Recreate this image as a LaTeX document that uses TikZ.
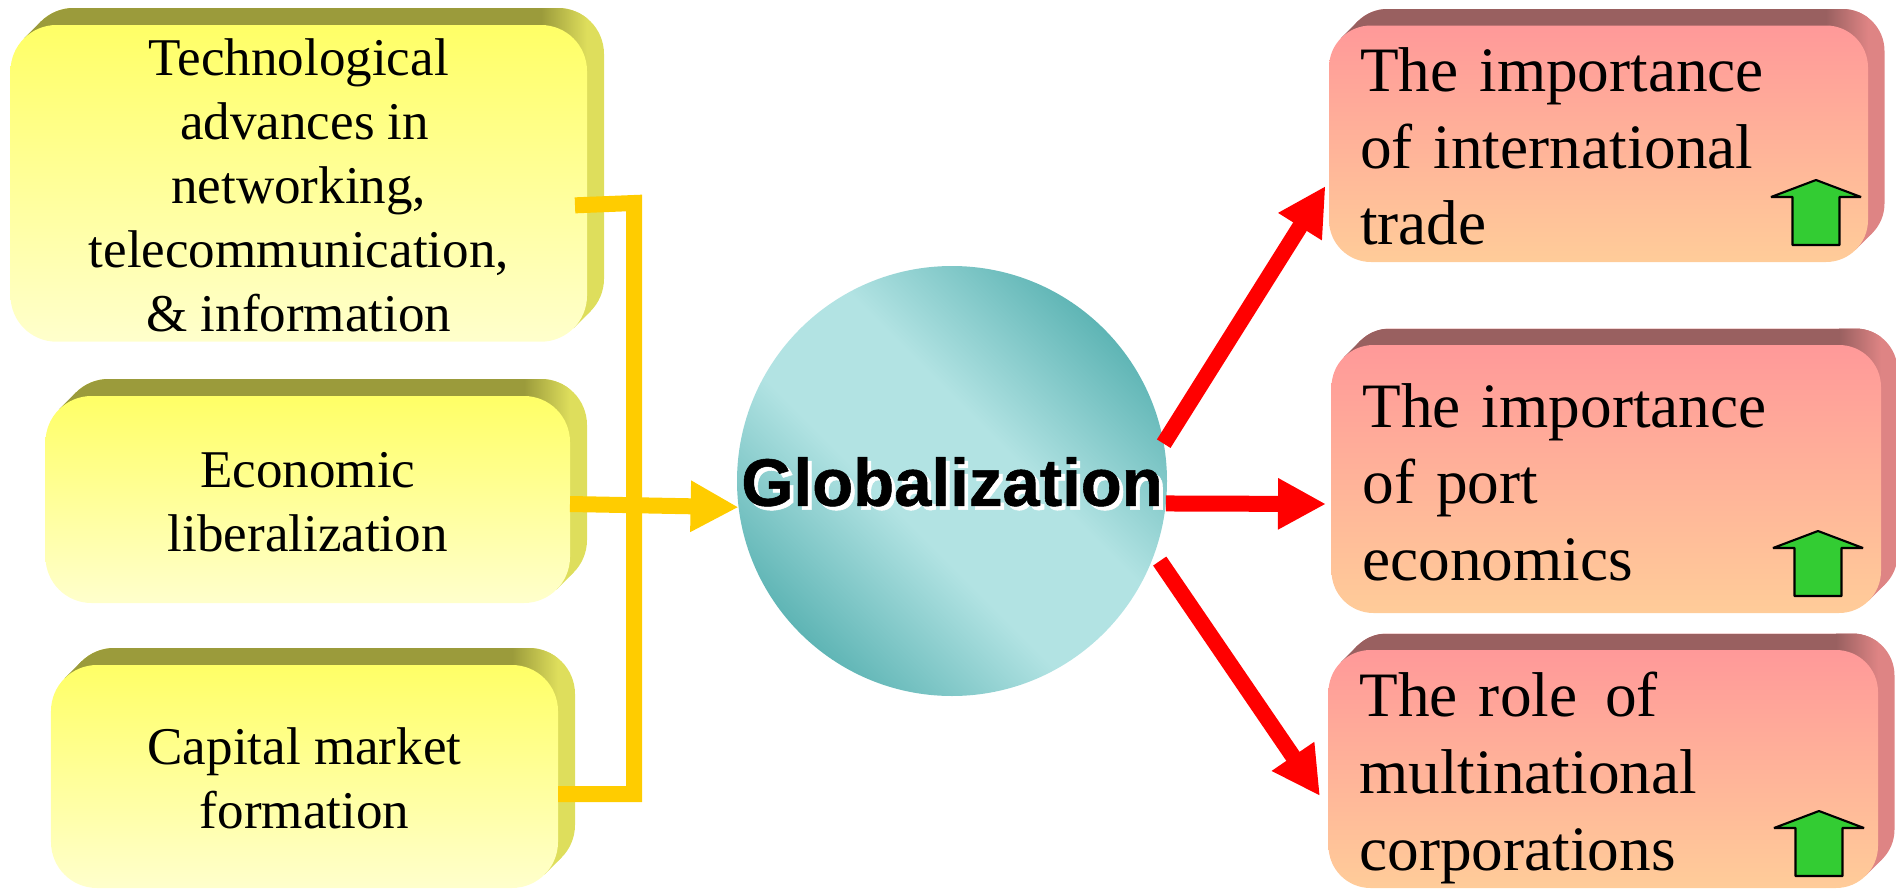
\documentclass[tikz,border=0pt]{standalone}
\usepackage{fontspec}
\setmainfont{Liberation Serif}
\newfontfamily\globfont{Liberation Sans}[BoldFeatures={FakeBold=0.8}]
\usetikzlibrary{arrows.meta}
\usetikzlibrary{calc}
\pgfdeclarelayer{background}
\pgfsetlayers{background,main}

\definecolor{yellowtop}{HTML}{FFFF66}
\definecolor{yellowbot}{HTML}{FFFFCC}
\definecolor{yellowband}{HTML}{9B9B3B}
\definecolor{yellowside}{HTML}{DEDE5C}
\definecolor{redtop}{HTML}{FF9999}
\definecolor{redbot}{HTML}{FFCC99}
\definecolor{redband}{HTML}{996060}
\definecolor{redside}{HTML}{DE8484}
\definecolor{teallight}{HTML}{B2E3E3}
\definecolor{tealdark}{HTML}{5FB5B5}
\definecolor{bracketyellow}{HTML}{FFCC00}
\definecolor{arrowgreen}{HTML}{33CC33}
\pgfdeclarehorizontalshading{globshade}{100bp}{color(0bp)=(tealdark); color(25bp)=(tealdark); color(43bp)=(teallight); color(57bp)=(teallight); color(75bp)=(tealdark); color(100bp)=(tealdark)}

\tikzset{
  yellowslab/.style={rectangle, rounded corners=.46cm, outer sep=0pt, inner ysep=0pt, top color=yellowtop, bottom color=yellowbot, align=center, font=\fontsize{15.1}{18.2}\selectfont},
  redslab/.style={rectangle, rounded corners=.42cm, outer sep=0pt, inner xsep=.31cm, inner ysep=0pt, top color=redtop, bottom color=redbot, align=left, font=\fontsize{18}{21.8}\selectfont},
  bracketline/.style={bracketyellow, line width=.16cm},
  yellowarrow/.style={bracketline, -{Triangle[length=.48cm, width=.48cm]}},
  redarrow/.style={red, line width=.16cm, -{Triangle[length=.48cm, width=.48cm]}},
  uparrow/.pic={
    \draw[fill=arrowgreen, line width=.6pt, line join=bevel]
      (-.235,0) -- (-.235,.48) -- (-.45,.48) -- (0,.65) -- (.45,.48) -- (.235,.48) -- (.235,0) -- cycle;
  }
}

% back of a slab: node, radius, depth, band colour, side colour
\newcommand{\slabback}[5]{%
  \begin{pgfonlayer}{background}
    \coordinate (sw) at ($(#1.south west)+(#3,#3)$);
    \coordinate (ne) at ($(#1.north east)+(#3,#3)$);
    \fill[#5, rounded corners=#2cm] (sw) rectangle (ne);
    \fill[#5] ($(#1.south east)+(-.293*#2,.293*#2)$) -- ++(#3,#3) -- (#1.center) -- cycle;
    \fill[#4] ($(#1.north west)+(.293*#2,-.293*#2)$) -- ++(#3,#3) -- (#1.north) -- cycle;
    \begin{scope}
      \clip[rounded corners=#2cm] (sw) rectangle (ne);
      \fill[#4] ($(#1.north west)+(0,-#2)$) rectangle ($(#1.north east)+(-#2,#3)$);
      \shade[left color=#4, right color=#5] ($(#1.north east)+(-#2,-#2)$) rectangle ($(#1.north east)+(0,#3)$);
    \end{scope}
  \end{pgfonlayer}
}

\begin{document}
\begin{tikzpicture}
  \useasboundingbox (0,0) rectangle (18.96,8.88);

  \node[yellowslab, minimum width=5.765cm, minimum height=3.167cm] (tech) at (2.9875,7.0465)
    {\rule{0pt}{11.6pt}Technological\\ \hspace*{.12cm}advances in\\ networking,\hspace*{.15cm}\\ telecommunication,\\ \& information};
  \node[yellowslab, minimum width=5.245cm, minimum height=2.07cm] (econ) at (3.0775,3.885)
    {\rule{0pt}{11.6pt}Economic\\ liberalization};
  \node[yellowslab, minimum width=5.07cm, minimum height=2.23cm] (capital) at (3.045,1.115)
    {\rule{0pt}{11.6pt}Capital market\\ formation};
  \slabback{tech}{.46}{.17}{yellowband}{yellowside}
  \slabback{econ}{.46}{.17}{yellowband}{yellowside}
  \slabback{capital}{.46}{.17}{yellowband}{yellowside}

  \node[redslab, text width=4.77cm, minimum height=2.365cm] (trade) at (15.985,7.4425)
    {\rule{0pt}{14pt}The importance\\ of international\\ trade};
  \node[redslab, text width=4.875cm, minimum height=2.68cm] (port) at (16.0625,4.09)
    {\rule{0pt}{14.4pt}The importance\\ of port\\ economics};
  \node[redslab, text width=4.875cm, minimum height=2.38cm] (role) at (16.0325,1.19)
    {\rule{0pt}{17.8pt}The role\hspace{7.9pt}of\\ multinational\\ corporations};
  \slabback{trade}{.42}{.165}{redband}{redside}
  \slabback{port}{.42}{.165}{redband}{redside}
  \slabback{role}{.42}{.165}{redband}{redside}

  \pic at ($(trade.south east)+(-.52,.17)$) {uparrow};
  \pic at ($(port.south east)+(-.63,.17)$) {uparrow};
  \pic at ($(role.south east)+(-.59,.12)$) {uparrow};

  \node[circle, minimum size=4.3cm, inner sep=0pt, outer sep=0pt, shading=globshade, shading angle=45,
        font=\fontsize{19.1}{19}\selectfont\globfont\bfseries] (glob) at (9.52,4.07)
    {\rule{0pt}{15.4pt}\rlap{\raisebox{-1.1pt}{\hspace*{1.1pt}\textcolor{white}{Globalization}}}Globalization};

  % yellow bracket on the left
  \coordinate (bendtop) at (6.34,6.85);
  \coordinate (bendbot) at (6.34,.94);
  \draw[bracketline] ($(tech.east)+(-.12,-.22)$) -- (bendtop) -- (bendbot) -- ($(capital.east)+(0,-.175)$);
  \draw[yellowarrow] ($(econ.east)+(0,-.045)$) -- (glob.187.5);

  % red arrows on the right
  \draw[redarrow] (glob.10.8) -- ($(trade.west)+(-.035,-.4225)$);
  \draw[redarrow] (glob.-6.2) -- ($(port.west)+(-.055,-.25)$);
  \draw[redarrow] ($(glob.-21)+(.07,-.03)$) -- ($(role.west)+(-.085,-.27)$);
\end{tikzpicture}
\end{document}
